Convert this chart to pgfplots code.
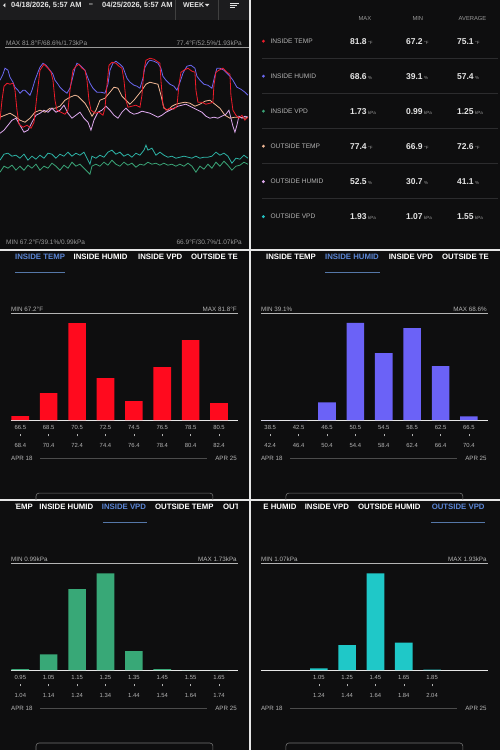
\documentclass[border=0pt]{standalone}
\usepackage{fontspec}
\setmainfont{Liberation Sans}
\usepackage{pgfplots}
\pgfplotsset{compat=1.18}
\definecolor{bg}{HTML}{0E0E0F}
\definecolor{hdr}{HTML}{1C1C1E}
\definecolor{gap}{HTML}{E6E6E6}
\definecolor{txt}{HTML}{E4E4E4}
\definecolor{lbl}{HTML}{B4B4B4}
\definecolor{dim}{HTML}{9A9A9A}
\definecolor{sep}{HTML}{2C2C2E}
\definecolor{actv}{HTML}{5B86D6}
\definecolor{ul}{HTML}{5577A8}
\definecolor{cRed}{HTML}{EE1C2A}
\definecolor{cBlue}{HTML}{6B68F0}
\definecolor{cGreen}{HTML}{3AA376}
\definecolor{cTeal}{HTML}{22C2C2}
\definecolor{cPeach}{HTML}{F2B896}
\definecolor{cLav}{HTML}{DCA8EC}
\definecolor{lTeal}{HTML}{2DB3A6}
\definecolor{barRed}{HTML}{FF0A1E}
\definecolor{barBlue}{HTML}{6B62F7}
\definecolor{barGreen}{HTML}{38A877}
\definecolor{barTeal}{HTML}{1FC8C8}
\newcommand{\fs}[1]{\fontsize{#1}{#1}\selectfont}
\newcommand{\tl}[2]{#1\\\rule{0.4pt}{2.2pt}\\[4pt]#2}
\pgfplotsset{histo/.style={scale only axis, xmin=-0.5, ymin=0, ymax=107, height=107pt,
  axis line style={draw=none}, ytick=\empty, major tick length=0pt, ybar, bar width=17.6pt, bar shift=0pt,
  xticklabel style={font=\fontsize{5.9}{7}\selectfont, text=lbl, align=center, inner sep=0pt, yshift=-5pt},
  clip=false}}
% table row: y, dotcolor, label, max, min, avg, unit
\newcommand{\trow}[7]{%
  \fill[#2] (263.5,{750-#1}) circle (1.6);
  \node[anchor=west, text=lbl, font=\fs{6.6}, inner sep=0pt] at (270.5,{750-#1}) {#3};
  \node[anchor=base west, inner sep=0pt, text=txt, font=\fs{8.5}\bfseries] at (350,{750-#1-3}) {#4\,{\fontsize{4.5}{5}\selectfont\mdseries\color{dim}#7}};
  \node[anchor=base west, inner sep=0pt, text=txt, font=\fs{8.5}\bfseries] at (406,{750-#1-3}) {#5\,{\fontsize{4.5}{5}\selectfont\mdseries\color{dim}#7}};
  \node[anchor=base west, inner sep=0pt, text=txt, font=\fs{8.5}\bfseries] at (457,{750-#1-3}) {#6\,{\fontsize{4.5}{5}\selectfont\mdseries\color{dim}#7}};
}
% panel frame decorations: ox, oy, min text, max text
\newcommand{\pframe}[4]{%
  \node[anchor=west, text=lbl, font=\fs{6.3}, inner sep=0pt] at ({#1+11},{750-#2-59}) {#3};
  \node[anchor=east, text=lbl, font=\fs{6.3}, inner sep=0pt] at ({#1+237},{750-#2-59}) {#4};
  \draw[lbl, line width=0.7pt] ({#1+11},{750-#2-63.3}) -- ({#1+238},{750-#2-63.3});
  \draw[gap, line width=0.8pt] ({#1+11},{750-#2-170}) -- ({#1+238},{750-#2-170});
  \node[anchor=west, text=lbl, font=\fs{6.2}, inner sep=0pt] at ({#1+11},{750-#2-208.5}) {APR 18};
  \draw[black!70!white, line width=0.5pt] ({#1+40},{750-#2-208.5}) -- ({#1+207},{750-#2-208.5});
  \node[anchor=east, text=lbl, font=\fs{6.2}, inner sep=0pt] at ({#1+237},{750-#2-208.5}) {APR 25};
  \begin{scope}
    \clip ({#1},{750-#2-200}) rectangle ({#1+249},{750-#2-249});
    \draw[black!55!white, line width=0.6pt, rounded corners=3pt] ({#1+36},{750-#2-243}) rectangle ({#1+213},{750-#2-262});
  \end{scope}
}
\begin{document}
\begin{tikzpicture}[x=1pt,y=1pt]
\fill[gap] (0,0) rectangle (500,750);
% panels
\fill[bg] (0,750) rectangle (249,501);
\fill[bg] (251,750) rectangle (500,501);
\fill[bg] (0,499) rectangle (249,251);
\fill[bg] (251,499) rectangle (500,251);
\fill[bg] (0,249) rectangle (249,0);
\fill[bg] (251,249) rectangle (500,0);
% ===== header =====
\fill[hdr] (0,750) rectangle (249,730);
\fill[txt] (3,745) -- (5.5,747.2) -- (5.5,742.8) -- cycle;
\node[anchor=west, inner sep=0pt, text=txt, font=\fs{7.5}\bfseries] at (11,745) {04/18/2026, 5:57 AM};
\node[inner sep=0pt, text=txt, font=\fs{7.5}\bfseries] at (91,745) {–};
\node[anchor=west, inner sep=0pt, text=txt, font=\fs{7.5}\bfseries] at (102,745) {04/25/2026, 5:57 AM};
\draw[black!75!white, line width=0.5pt] (175,750) -- (175,730);
\draw[black!75!white, line width=0.5pt] (218,750) -- (218,730);
\node[anchor=west, inner sep=0pt, text=txt, font=\fs{7}\bfseries] at (183,745) {WEEK};
\fill[txt] (205,746.3) -- (209.4,746.3) -- (207.2,743.8) -- cycle;
\draw[txt, line width=0.8pt] (230,747.3) -- (239.3,747.3);
\draw[txt, line width=0.8pt] (230,745.3) -- (237.3,745.3);
\draw[txt, line width=0.8pt] (230,743.3) -- (234.7,743.3);
% ===== line chart =====
\draw[dim, line width=0.5pt] (5,703) -- (249,703);
\node[anchor=west, inner sep=0pt, text=dim, font=\fs{6.5}] at (6,707.3) {MAX 81.8°F/68.6\%/1.73kPa};
\node[anchor=east, inner sep=0pt, text=dim, font=\fs{6.5}] at (242,707.3) {77.4°F/52.5\%/1.93kPa};
\node[anchor=west, inner sep=0pt, text=dim, font=\fs{6.5}] at (6,507.7) {MIN 67.2°F/39.1\%/0.99kPa};
\node[anchor=east, inner sep=0pt, text=dim, font=\fs{6.5}] at (242,507.7) {66.9°F/30.7\%/1.07kPa};
% y values are pixel rows measured from the top of the picture; the filter turns them upward
\begin{axis}[at={(0pt,502pt)}, anchor=south west, scale only axis, width=249pt, height=200pt,
  xmin=0, xmax=249, ymin=0, ymax=200, y filter/.expression={248-y}, hide axis, clip=true]
% inside VPD
\addplot[cGreen, line width=0.8pt] coordinates {(0,172) (4,166) (8,168) (12,165) (16,170) (20,166) (24,170) (28,165) (32,168) (36,164) (40,170) (44,166) (48,168) (52,163) (56,166) (60,170) (64,165) (68,168) (72,162) (76,166) (80,164) (84,168) (88,172) (90,174) (92,166) (96,164) (100,166) (104,162) (108,165) (112,160) (116,164) (120,166) (124,162) (128,165) (132,163) (136,167) (140,164) (144,165) (148,162) (152,164) (156,163) (160,165) (164,163) (168,165) (172,164) (176,166) (180,164) (184,166) (188,163) (192,166) (196,172) (200,166) (204,169) (208,164) (212,168) (216,162) (220,166) (224,161) (228,165) (232,170) (236,166) (240,165) (244,162) (248,164)};
% outside VPD
\addplot[lTeal, line width=0.8pt] coordinates {(0,160) (4,154) (8,153) (12,156) (16,155) (20,158) (24,154) (28,160) (32,156) (36,159) (40,155) (44,158) (48,153) (52,154) (56,158) (60,154) (64,156) (68,152) (72,156) (76,153) (80,155) (84,152) (88,160) (90,164) (92,156) (96,158) (100,155) (104,157) (108,152) (112,150) (116,154) (120,152) (124,156) (128,154) (132,157) (136,153) (140,155) (144,150) (146,145) (148,150) (152,148) (156,155) (160,152) (164,155) (168,157) (172,156) (176,158) (180,157) (184,156) (188,157) (192,158) (196,156) (200,158) (204,157) (208,157) (212,156) (216,152) (220,155) (224,153) (228,156) (232,163) (236,158) (240,159) (244,155) (248,158)};
% inside humid
\addplot[cBlue, line width=0.8pt] coordinates {(0,80) (3,74) (5,68) (8,70) (10,77) (13,82) (15,87) (18,90) (20,93) (23,90) (25,90) (28,93) (30,95) (32,90) (35,80) (38,72) (40,67) (43,63) (46,65) (50,70) (53,74) (55,80) (58,84) (60,87) (63,90) (67,93) (70,88) (72,80) (75,68) (77,63) (80,65) (85,70) (88,78) (90,83) (93,88) (97,92) (101,92) (105,93) (108,84) (110,70) (113,63) (116,61) (120,64) (123,67) (127,78) (130,82) (134,85) (137,86) (140,88) (143,78) (145,67) (148,62) (150,60) (154,61) (158,63) (161,68) (163,76) (166,80) (170,84) (174,86) (177,90) (180,82) (183,73) (187,66) (191,65) (195,68) (197,76) (200,80) (204,84) (208,85) (212,88) (215,75) (217,68) (220,68) (224,70) (228,74) (230,76) (233,80) (237,87) (241,89) (245,92) (248,95)};
% outside temp
\addplot[cPeach, line width=0.8pt] coordinates {(0,117) (5,115) (10,113) (15,116) (20,120) (25,122) (30,118) (35,112) (40,110) (45,112) (50,108) (55,108) (60,106) (65,100) (70,97) (75,95) (78,96) (82,100) (85,103) (88,108) (92,116) (96,110) (100,100) (105,98) (110,92) (114,87) (118,88) (122,96) (126,100) (130,104) (134,100) (138,95) (142,90) (146,84) (150,82) (154,83) (158,84) (161,95) (164,108) (168,110) (172,106) (176,104) (180,103) (185,102) (190,103) (195,106) (200,104) (205,101) (210,100) (215,104) (220,108) (225,115) (230,118) (235,117) (240,117) (245,118) (248,117)};
% outside humid
\addplot[cLav, line width=0.8pt] coordinates {(0,133) (4,130) (8,125) (12,120) (16,118) (20,125) (24,132) (28,130) (32,122) (36,115) (40,113) (44,110) (48,112) (52,108) (56,112) (60,110) (64,105) (68,113) (72,118) (76,115) (80,112) (84,118) (88,122) (91,130) (94,120) (98,112) (102,110) (106,106) (110,110) (114,115) (118,118) (122,112) (126,108) (130,112) (134,114) (138,113) (142,111) (146,112) (150,113) (154,115) (158,117) (162,115) (166,112) (170,110) (174,108) (178,106) (182,105) (186,104) (190,106) (194,108) (198,110) (202,112) (206,116) (210,118) (214,117) (218,118) (222,116) (226,114) (229,110) (231,118) (233,126) (235,132) (237,125) (239,116) (242,118) (245,116) (248,117)};
% inside temp
\addplot[cRed, line width=0.8pt] coordinates {(0,120) (2,100) (4,86) (7,83) (10,84) (13,83) (15,90) (17,110) (19,124) (23,127) (27,125) (31,128) (34,122) (37,95) (40,70) (44,64) (48,68) (51,72) (53,80) (55,100) (57,110) (61,112) (65,114) (68,110) (70,90) (73,70) (76,66) (79,64) (82,68) (85,70) (87,80) (89,100) (91,110) (95,113) (99,112) (103,115) (105,108) (107,85) (109,65) (112,62) (116,63) (119,66) (122,68) (124,80) (126,100) (128,107) (132,106) (136,105) (140,107) (142,95) (144,70) (146,60) (150,58) (154,59) (157,61) (160,63) (161,80) (163,105) (166,110) (170,108) (174,109) (177,106) (179,85) (181,72) (184,70) (188,68) (192,71) (195,72) (196,90) (198,102) (202,102) (206,104) (210,103) (213,102) (214,85) (216,72) (219,70) (223,68) (227,72) (230,74) (231,95) (233,110) (236,115) (239,118) (242,115) (245,120) (248,117)};
\end{axis}
% ===== table =====
\node[text=dim, font=\fs{5.8}, inner sep=0pt] at (365,732) {MAX};
\node[text=dim, font=\fs{5.8}, inner sep=0pt] at (418,732) {MIN};
\node[text=dim, font=\fs{5.8}, inner sep=0pt] at (472.7,732) {AVERAGE};
\foreach \yy in {58.5,93.5,128.5,163.5,198.5} {\draw[sep, line width=0.6pt] (262,{750-\yy}) -- (498,{750-\yy});}
\trow{41}{cRed}{INSIDE TEMP}{81.8}{67.2}{75.1}{°F}
\trow{76}{cBlue}{INSIDE HUMID}{68.6}{39.1}{57.4}{\%}
\trow{111}{cGreen}{INSIDE VPD}{1.73}{0.99}{1.25}{kPa}
\trow{146}{cPeach}{OUTSIDE TEMP}{77.4}{66.9}{72.6}{°F}
\trow{181.5}{cLav}{OUTSIDE HUMID}{52.5}{30.7}{41.1}{\%}
\trow{216.5}{cTeal}{OUTSIDE VPD}{1.93}{1.07}{1.55}{kPa}
% ===== histogram panels =====
\pframe{0}{250}{MIN 67.2°F}{MAX 81.8°F}
\pframe{250}{250}{MIN 39.1\%}{MAX 68.6\%}
\pframe{0}{500}{MIN 0.99kPa}{MAX 1.73kPa}
\pframe{250}{500}{MIN 1.07kPa}{MAX 1.93kPa}
% tabs panel 3
\begin{scope}
\clip (13,500) rectangle (239,478);
\node[anchor=west, inner sep=0pt, text=actv, font=\fs{7.8}\bfseries] at (15,493.5) {INSIDE TEMP};
\node[anchor=west, inner sep=0pt, text=white, font=\fs{7.8}\bfseries] at (73.5,493.5) {INSIDE HUMID};
\node[anchor=west, inner sep=0pt, text=white, font=\fs{7.8}\bfseries] at (138,493.5) {INSIDE VPD};
\node[anchor=west, inner sep=0pt, text=white, font=\fs{7.8}\bfseries] at (191,493.5) {OUTSIDE TE};
\end{scope}
\draw[ul, line width=1pt] (15,478) -- (65,478);
% tabs panel 4
\begin{scope}
\clip (263,500) rectangle (489,478);
\node[anchor=west, inner sep=0pt, text=white, font=\fs{7.8}\bfseries] at (266,493.5) {INSIDE TEMP};
\node[anchor=west, inner sep=0pt, text=actv, font=\fs{7.8}\bfseries] at (325,493.5) {INSIDE HUMID};
\node[anchor=west, inner sep=0pt, text=white, font=\fs{7.8}\bfseries] at (388.7,493.5) {INSIDE VPD};
\node[anchor=west, inner sep=0pt, text=white, font=\fs{7.8}\bfseries] at (442,493.5) {OUTSIDE TE};
\end{scope}
\draw[ul, line width=1pt] (325,478) -- (380,478);
% tabs panel 5
\begin{scope}
\clip (15.5,250) rectangle (237.5,228);
\node[anchor=east, inner sep=0pt, text=white, font=\fs{7.8}\bfseries] at (33,243.5) {TEMP};
\node[anchor=west, inner sep=0pt, text=white, font=\fs{7.8}\bfseries] at (39.3,243.5) {INSIDE HUMID};
\node[anchor=west, inner sep=0pt, text=actv, font=\fs{7.8}\bfseries] at (101.7,243.5) {INSIDE VPD};
\node[anchor=west, inner sep=0pt, text=white, font=\fs{7.8}\bfseries] at (155,243.5) {OUTSIDE TEMP};
\node[anchor=west, inner sep=0pt, text=white, font=\fs{7.8}\bfseries] at (223,243.5) {OUT};
\end{scope}
\draw[ul, line width=1pt] (103,227.5) -- (147,227.5);
% tabs panel 6
\begin{scope}
\clip (263,250) rectangle (489,228);
\node[anchor=east, inner sep=0pt, text=white, font=\fs{7.8}\bfseries] at (296.7,243.5) {E HUMID};
\node[anchor=west, inner sep=0pt, text=white, font=\fs{7.8}\bfseries] at (304.7,243.5) {INSIDE VPD};
\node[anchor=west, inner sep=0pt, text=white, font=\fs{7.8}\bfseries] at (358,243.5) {OUTSIDE HUMID};
\node[anchor=west, inner sep=0pt, text=actv, font=\fs{7.8}\bfseries] at (431.7,243.5) {OUTSIDE VPD};
\end{scope}
\draw[ul, line width=1pt] (431,227.5) -- (485,227.5);
% inside temp histogram
\begin{axis}[histo, at={(6.1pt,330pt)}, anchor=south west, width=227.2pt, xmax=7.5,
  xtick={0,...,7}, xticklabels={{\tl{66.5}{68.4}},{\tl{68.5}{70.4}},{\tl{70.5}{72.4}},{\tl{72.5}{74.4}},{\tl{74.5}{76.4}},{\tl{76.5}{78.4}},{\tl{78.5}{80.4}},{\tl{80.5}{82.4}}}]
\addplot[fill=barRed, draw=none] coordinates {(0,4) (1,27) (2,97) (3,42) (4,19) (5,53) (6,80) (7,17)};
\end{axis}
% inside humid histogram
\begin{axis}[histo, at={(256.1pt,330pt)}, anchor=south west, width=227.2pt, xmax=7.5,
  xtick={0,...,7}, xticklabels={{\tl{38.5}{42.4}},{\tl{42.5}{46.4}},{\tl{46.5}{50.4}},{\tl{50.5}{54.4}},{\tl{54.5}{58.4}},{\tl{58.5}{62.4}},{\tl{62.5}{66.4}},{\tl{66.5}{70.4}}}]
\addplot[fill=barBlue, draw=none] coordinates {(0,0) (1,0) (2,17.7) (3,97.3) (4,67) (5,92) (6,54) (7,3.7)};
\end{axis}
% inside VPD histogram
\begin{axis}[histo, at={(6.1pt,80pt)}, anchor=south west, width=227.2pt, xmax=7.5,
  xtick={0,...,7}, xticklabels={{\tl{0.95}{1.04}},{\tl{1.05}{1.14}},{\tl{1.15}{1.24}},{\tl{1.25}{1.34}},{\tl{1.35}{1.44}},{\tl{1.45}{1.54}},{\tl{1.55}{1.64}},{\tl{1.65}{1.74}}}]
\addplot[fill=barGreen, draw=none] coordinates {(0,1) (1,15.7) (2,81) (3,96.7) (4,19) (5,1) (6,0) (7,0)};
\end{axis}
% outside VPD histogram
\begin{axis}[histo, at={(304.85pt,80pt)}, anchor=south west, width=141.5pt, xmax=4.5,
  xtick={0,...,4}, xticklabels={{\tl{1.05}{1.24}},{\tl{1.25}{1.44}},{\tl{1.45}{1.64}},{\tl{1.65}{1.84}},{\tl{1.85}{2.04}}}]
\addplot[fill=barTeal, draw=none] coordinates {(0,1.7) (1,25) (2,96.7) (3,27.3) (4,0.5)};
\end{axis}
\end{tikzpicture}
\end{document}
